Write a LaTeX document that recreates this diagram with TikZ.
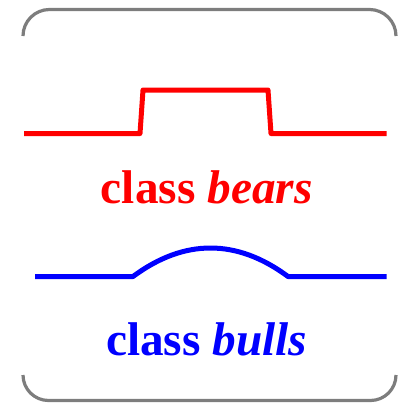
\documentclass[tikz,border=0pt]{standalone}
\usepackage{fontspec}
\setmainfont{Liberation Serif}
\begin{document}
\begin{tikzpicture}[x=1pt,y=-1pt,
  frame/.style={draw=gray!98!black,line width=3.2pt,line cap=butt},
  wave/.style={line width=5pt,line join=round},
  label/.style={font=\fontsize{47.3}{50}\selectfont\bfseries,anchor=base,inner sep=0pt}]
\useasboundingbox (0,0) rectangle (397,405);
% frame corners
\draw[frame] (23,36) arc[start angle=180,end angle=270,radius=26.5] -- (369.5,9.5) arc[start angle=270,end angle=360,radius=26.5];
\draw[frame] (23,375) arc[start angle=180,end angle=90,radius=25.5] -- (370.5,400.5) arc[start angle=90,end angle=0,radius=25.5];
% red step
\draw[wave,red] (24,133.5) -- (140,133.5) -- (143,90) -- (268,90) -- (271,133.5) -- (386.5,133.5);
\node[label,text=red] (bears) at (206.7,203.3) {class \textit{bears}};
% blue bump
\draw[wave,blue] (35,276.5) -- (133,276.5) .. controls (184.3,238.5) and (236.7,238.5) .. (288,276.5) -- (386.5,276.5);
\node[label,text=blue] (bulls) at (206.7,355) {class \textit{bulls}};
\end{tikzpicture}
\end{document}
